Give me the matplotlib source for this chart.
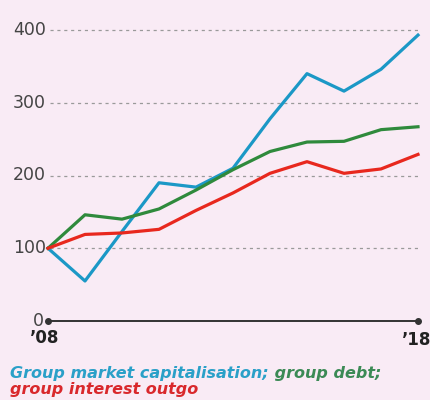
import matplotlib.pyplot as plt

years = list(range(2008, 2019))
market_cap = [100, 55, 123, 190, 184, 210, 278, 340, 316, 346, 393]
group_debt = [100, 146, 140, 154, 180, 208, 233, 246, 247, 263, 267]
interest_outgo = [100, 119, 121, 126, 152, 176, 203, 219, 203, 209, 229]
yticks = [100, 200, 300, 400]

bg = "#f9ebf5"
blue = "#1b98c6"
green = "#2f8a3c"
red = "#e8281e"

plt.rcParams["font.family"] = ["DejaVu Sans"]

fig = plt.figure(figsize=(4.3, 4.0), dpi=100, facecolor=bg)
ax = fig.add_axes([48 / 430, 1 - 321 / 400, 370 / 430, 291 / 400])
ax.set_facecolor(bg)
ax.set_xlim(years[0], years[-1])
ax.set_ylim(0, 400)

# dashed guides
for v in yticks:
    ax.plot([years[0] + 0.05, years[-1]], [v, v], color="#9a9a9a", lw=0.9,
            ls=(0, (2.5, 3)), zorder=1, clip_on=False)
    ax.text(years[0] - 0.05, v, str(v), ha="right", va="center",
            fontsize=12.5, color="#444444")

# baseline with end dots
ax.plot([years[0], years[-1]], [0, 0], color="#333333", lw=1.4,
        marker="o", markersize=4, clip_on=False, zorder=2)
ax.text(years[0] - 0.12, 0, "0", ha="right", va="center", fontsize=12.5,
        color="#444444")
ax.text(years[0] - 0.1, -11, "’08", ha="center", va="top", fontsize=12,
        fontweight="bold", color="#222222")
ax.text(years[-1] - 0.05, -14, "’18", ha="center", va="top", fontsize=12,
        fontweight="bold", color="#222222")

ax.plot(years, market_cap, color=blue, lw=2.3, clip_on=False, zorder=3)
ax.plot(years, group_debt, color=green, lw=2.3, clip_on=False, zorder=3)
ax.plot(years, interest_outgo, color=red, lw=2.3, clip_on=False, zorder=3)

for s in ax.spines.values():
    s.set_visible(False)
ax.set_xticks([])
ax.set_yticks([])

# caption in colours
cap = dict(fontsize=11.5, style="italic", fontweight="bold")
t1 = fig.text(10 / 430, 1 - 378 / 400, "Group market capitalisation;",
              color="#2aa0c8", va="baseline", **cap)
fig.canvas.draw()
ax.annotate(" group debt;", xycoords=t1, xy=(1, 0), va="bottom",
            color="#3b8a55", annotation_clip=False, **cap)
fig.text(10 / 430, 1 - 394 / 400, "group interest outgo",
         color="#d9282c", va="baseline", **cap)

fig.savefig("out.png", dpi=100, facecolor=bg)
